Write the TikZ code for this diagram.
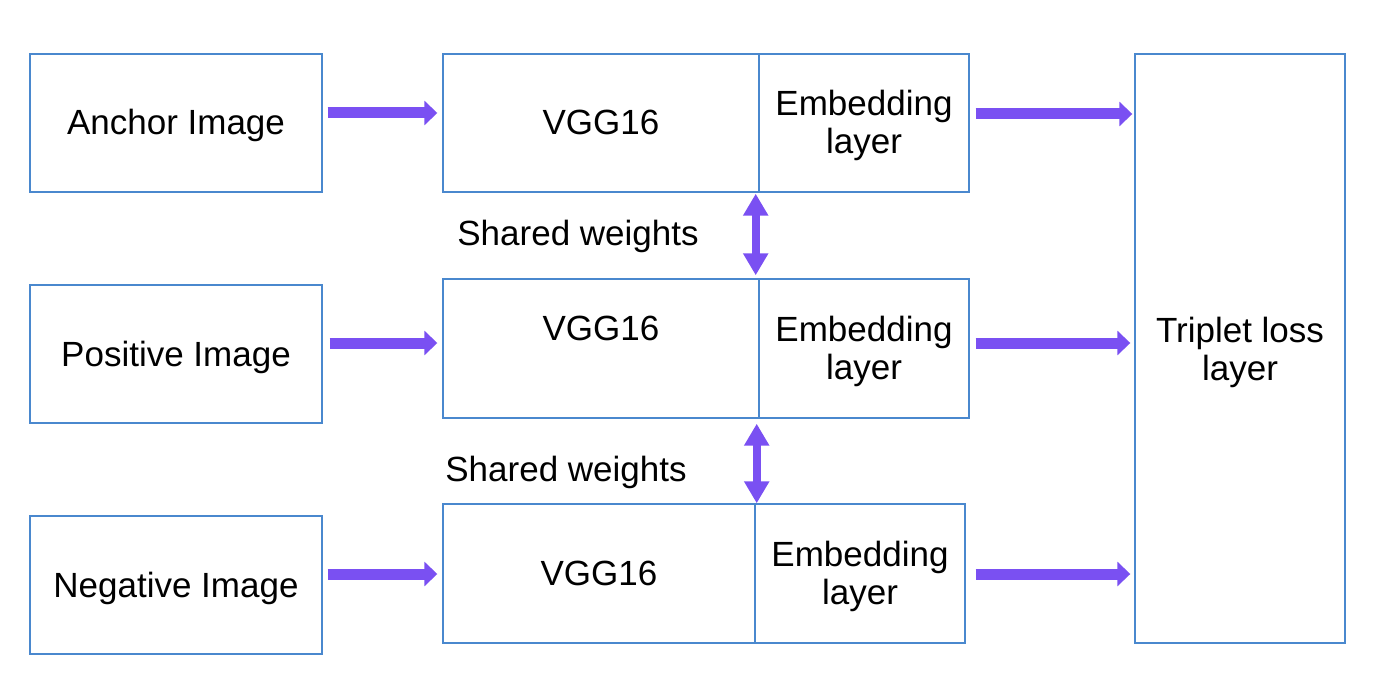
\documentclass[tikz,border=0pt]{standalone}
\usepackage{fontspec}
\setmainfont{Liberation Sans}
\usetikzlibrary{arrows.meta,calc}
\definecolor{boxblue}{HTML}{4A88CE}
\definecolor{arrpurple}{HTML}{7A50F2}
\begin{document}
\begin{tikzpicture}[x=0.5pt,y=-0.5pt,
  txt/.style={font=\fontsize{17.5}{19}\selectfont},
  box/.style={draw=boxblue,line width=0.7pt,rectangle,inner sep=0pt,align=center,txt},
  one/.style={text height=15pt,text depth=3pt},
  two/.style={text height=33.5pt,text depth=3pt},
  lbl/.style={inner sep=0pt,txt},
  arr/.style={draw=arrpurple,line width=5.5pt,
    -{Triangle[width=12pt,length=6.5pt,fill=arrpurple]}},
  dbl/.style={draw=arrpurple,line width=4pt,
    {Triangle[width=12pt,length=11pt,fill=arrpurple]}-{Triangle[width=12pt,length=11pt,fill=arrpurple]}}]
\useasboundingbox (0,0) rectangle (1400,700);
% left input boxes
\node[box,one,minimum width=146pt,minimum height=69pt] (anchor) at (176,123) {Anchor Image};
\node[box,one,minimum width=146pt,minimum height=69pt] (pos) at (176,354) {Positive Image};
\node[box,one,minimum width=146pt,minimum height=69pt] (neg) at (176,585) {Negative Image};
% VGG boxes
\node[box,one,minimum width=158pt,minimum height=69pt] (vgg1) at (601,123) {VGG16};
\node[box,minimum width=158pt,minimum height=69.5pt] (vgg2) at (601,348.5) {};
\node[lbl,anchor=base] (vgg2t) at (601,340) {VGG16};
\node[box,one,minimum width=156pt,minimum height=69.5pt] (vgg3) at (599,573.5) {VGG16};
% embedding boxes
\node[box,two,minimum width=105pt,minimum height=69pt] (emb1) at (864,123) {Embedding\\layer};
\node[box,two,minimum width=105pt,minimum height=69.5pt] (emb2) at (864,348.5) {Embedding\\layer};
\node[box,two,minimum width=105pt,minimum height=69.5pt] (emb3) at (860,573.5) {Embedding\\layer};
% triplet
\node[box,text height=35pt,text depth=3pt,minimum width=105pt,minimum height=294.5pt] (trip) at (1240,348.5) {Triplet loss\\layer};
% shared weights labels
\node[lbl,anchor=base] (sw1) at (578,245) {Shared weights};
\node[lbl,anchor=base] (sw2) at (566,481) {Shared weights};
% input arrows
\draw[arr] ([xshift=2.5pt,yshift=5pt]anchor.east) -- ([xshift=-2.5pt,yshift=5pt]vgg1.west);
\draw[arr] ([xshift=3.5pt,yshift=5.5pt]pos.east) -- ([xshift=-2.5pt,yshift=2.75pt]vgg2.west);
\draw[arr] ([xshift=2.5pt,yshift=5.5pt]neg.east) -- ([xshift=-2.5pt,yshift=-0.25pt]vgg3.west);
% output arrows
\draw[arr] ([xshift=3pt,yshift=4.5pt]emb1.east) -- ([xshift=-1pt,yshift=4.5pt]trip.west |- emb1.east);
\draw[arr] ([xshift=3pt,yshift=2.75pt]emb2.east) -- ([xshift=-2pt,yshift=2.75pt]trip.west |- emb2.east);
\draw[arr] ([xshift=5pt,yshift=-0.25pt]emb3.east) -- ([xshift=-2pt,yshift=-0.25pt]trip.west |- emb3.east);
% shared-weight arrows
\draw[dbl] ([xshift=-2pt,yshift=-0.5pt]vgg1.south east) -- ([xshift=-2pt,yshift=1.5pt]vgg2.north east);
\draw[dbl] ([xshift=-1.5pt,yshift=-2.5pt]vgg2.south east) -- ([xshift=0.5pt,yshift=0pt]vgg3.north east);
\end{tikzpicture}
\end{document}
